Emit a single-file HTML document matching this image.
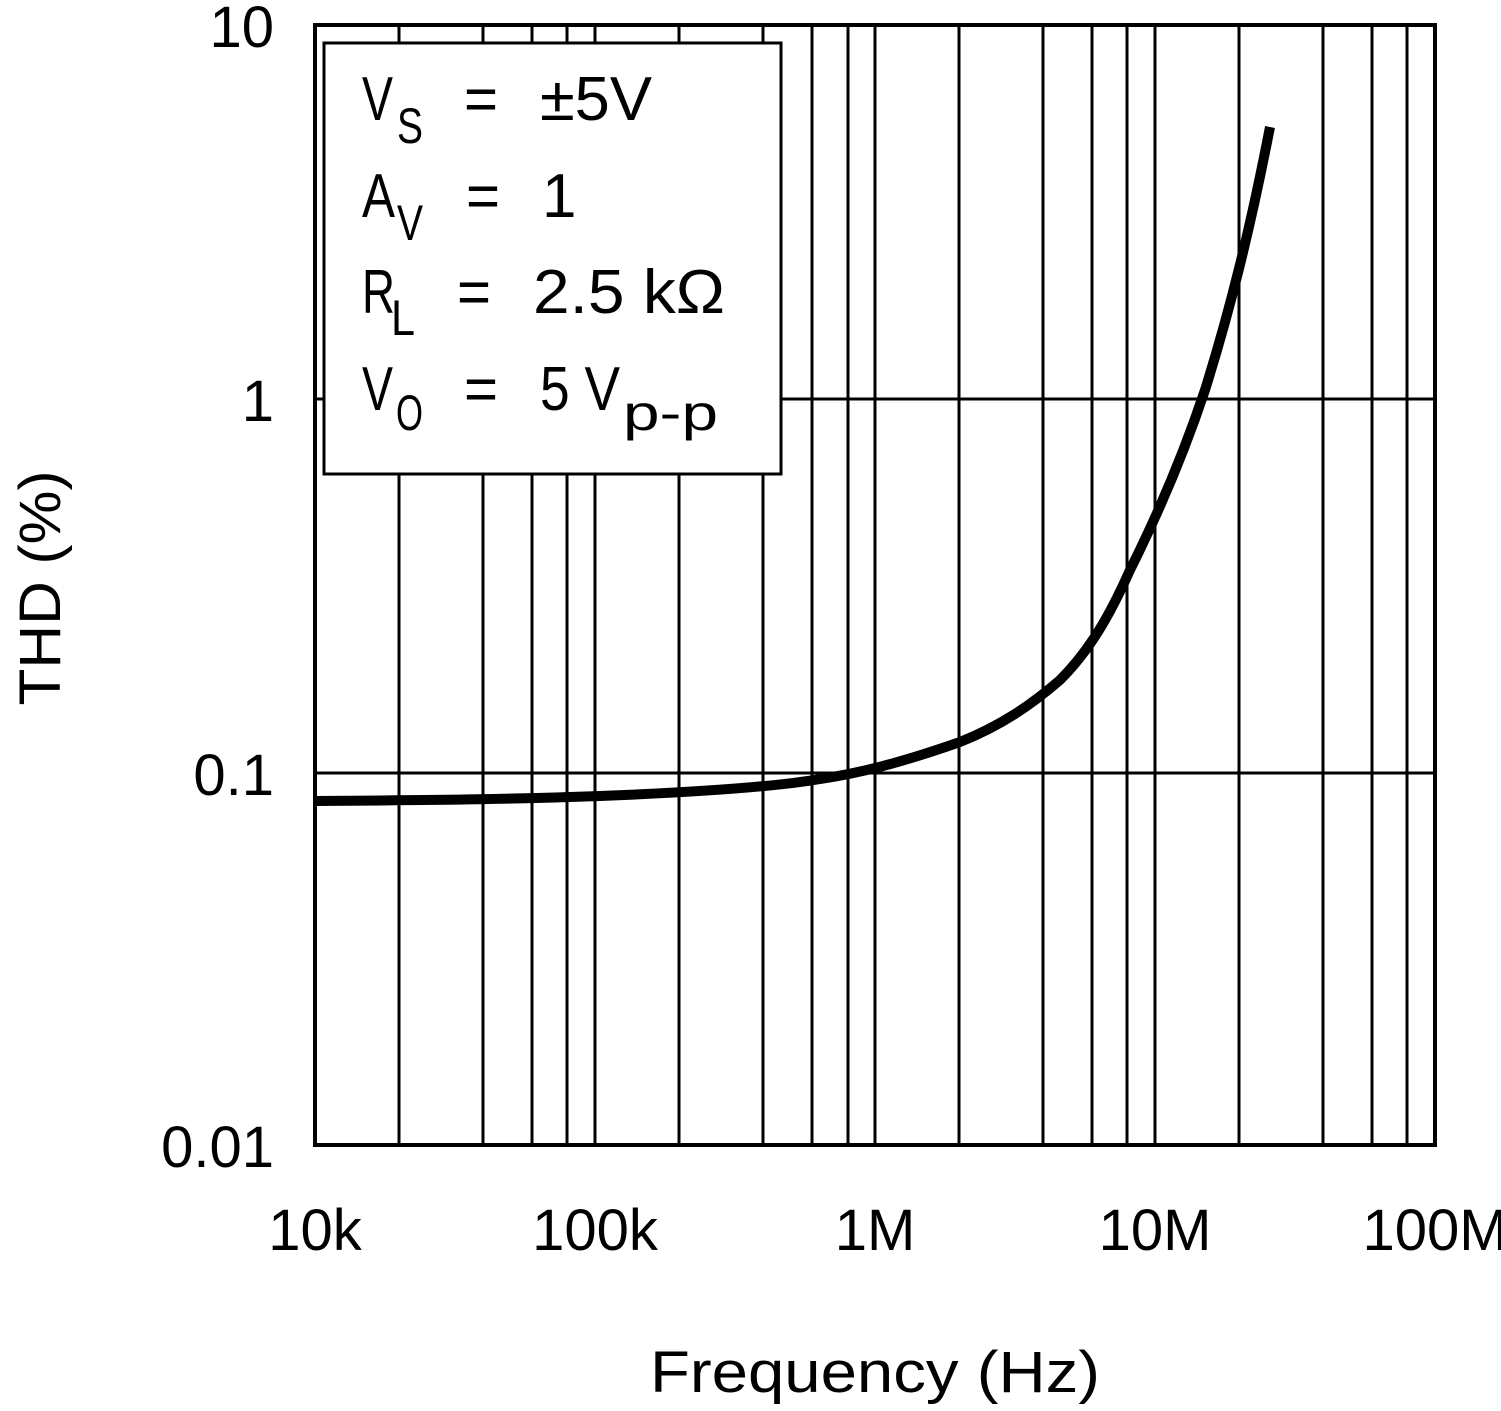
<!DOCTYPE html>
<html><head><style>body{margin:0;background:#fff}</style></head><body>
<svg width="1501" height="1406" xmlns="http://www.w3.org/2000/svg" font-family="Liberation Sans, sans-serif">
<rect width="1501" height="1406" fill="#fff"/>
<g stroke="#000" stroke-width="3">
<line x1="399" y1="25" x2="399" y2="1145"/><line x1="483" y1="25" x2="483" y2="1145"/><line x1="532" y1="25" x2="532" y2="1145"/><line x1="567" y1="25" x2="567" y2="1145"/>
<line x1="595" y1="25" x2="595" y2="1145"/>
<line x1="679" y1="25" x2="679" y2="1145"/><line x1="763" y1="25" x2="763" y2="1145"/><line x1="812" y1="25" x2="812" y2="1145"/><line x1="848" y1="25" x2="848" y2="1145"/>
<line x1="875" y1="25" x2="875" y2="1145"/>
<line x1="959" y1="25" x2="959" y2="1145"/><line x1="1043" y1="25" x2="1043" y2="1145"/><line x1="1092" y1="25" x2="1092" y2="1145"/><line x1="1127" y1="25" x2="1127" y2="1145"/>
<line x1="1155" y1="25" x2="1155" y2="1145"/>
<line x1="1239" y1="25" x2="1239" y2="1145"/><line x1="1323" y1="25" x2="1323" y2="1145"/><line x1="1372" y1="25" x2="1372" y2="1145"/><line x1="1407" y1="25" x2="1407" y2="1145"/>
<line x1="315" y1="399" x2="1435" y2="399"/><line x1="315" y1="773" x2="1435" y2="773"/>
</g>
<rect x="315" y="25" width="1120" height="1120" fill="none" stroke="#000" stroke-width="4"/>
<path d="M315,801 C450,800 520,799 600,796 C700,792 780,786 820,779 C860,773 900,763 960,742 C1000,726 1030,706 1060,680 C1090,650 1110,615 1130,570 C1160,510 1185,450 1205,390 C1230,310 1250,230 1270,127" fill="none" stroke="#000" stroke-width="10"/>
<rect x="324" y="43" width="457" height="431" fill="#fff" stroke="#000" stroke-width="3"/>
<g font-size="62" fill="#000" lengthAdjust="spacingAndGlyphs">
<text x="362" y="120" textLength="31" lengthAdjust="spacingAndGlyphs">V</text><text x="397" y="143" font-size="50" textLength="26" lengthAdjust="spacingAndGlyphs">S</text><text x="464" y="120" textLength="34" lengthAdjust="spacingAndGlyphs">=</text><text x="540" y="120" textLength="112" lengthAdjust="spacingAndGlyphs">±5V</text>
<text x="362" y="217" textLength="33" lengthAdjust="spacingAndGlyphs">A</text><text x="397" y="240" font-size="50" textLength="26" lengthAdjust="spacingAndGlyphs">V</text><text x="466" y="217" textLength="34" lengthAdjust="spacingAndGlyphs">=</text><text x="542" y="217">1</text>
<text x="362" y="313" textLength="33" lengthAdjust="spacingAndGlyphs">R</text><text x="391" y="335" font-size="50" textLength="24" lengthAdjust="spacingAndGlyphs">L</text><text x="457" y="313" textLength="34" lengthAdjust="spacingAndGlyphs">=</text><text x="533" y="313" textLength="192" lengthAdjust="spacingAndGlyphs">2.5 kΩ</text>
<text x="362" y="410" textLength="31" lengthAdjust="spacingAndGlyphs">V</text><text x="396" y="430" font-size="50" textLength="27" lengthAdjust="spacingAndGlyphs">O</text><text x="464" y="410" textLength="34" lengthAdjust="spacingAndGlyphs">=</text><text x="540" y="410" textLength="80" lengthAdjust="spacingAndGlyphs">5 V</text><text x="623" y="430" font-size="50" textLength="95" lengthAdjust="spacingAndGlyphs">p-p</text>
</g>
<g font-size="58" fill="#000" text-anchor="end">
<text x="274" y="47">10</text><text x="274" y="421">1</text><text x="274" y="795">0.1</text><text x="274" y="1167">0.01</text>
</g>
<g font-size="58" fill="#000" text-anchor="middle">
<text x="315" y="1250">10k</text><text x="595" y="1250">100k</text><text x="875" y="1250">1M</text><text x="1155" y="1250">10M</text><text x="1435" y="1250">100M</text>
<text x="875" y="1392" textLength="450" lengthAdjust="spacingAndGlyphs">Frequency (Hz)</text>
<text transform="translate(60,588) rotate(-90)" textLength="235" lengthAdjust="spacingAndGlyphs">THD (%)</text>
</g>
</svg>
</body></html>
